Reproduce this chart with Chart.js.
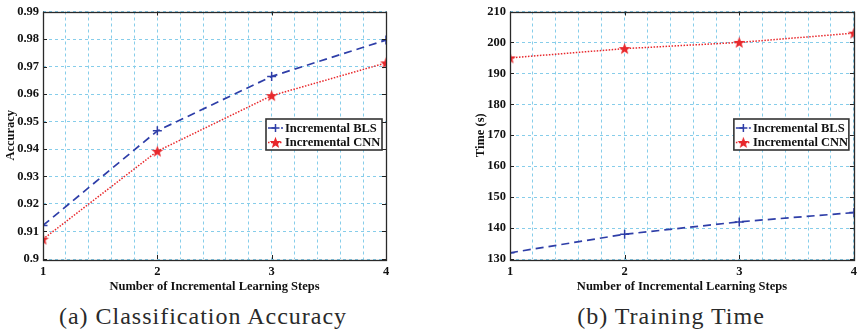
<!DOCTYPE html>
<html>
<head>
<meta charset="utf-8">
<script src="https://cdn.jsdelivr.net/npm/chart.js@4/dist/chart.umd.min.js"></script>
<style>
  html,body{margin:0;padding:0;background:#fff;}
  body{width:862px;height:330px;position:relative;overflow:hidden;}
  .wrap{position:absolute;top:0;width:431px;height:300px;}
  .cap{position:absolute;top:301px;font-family:"Liberation Serif","DejaVu Serif",serif;font-size:24px;letter-spacing:1px;color:#2a2a2a;white-space:nowrap;transform:translateX(-50%);line-height:30px;}
</style>
</head>
<body>
<div class="wrap" style="left:0"><canvas id="c1" width="431" height="300"></canvas></div>
<div class="wrap" style="left:431px"><canvas id="c2" width="431" height="300"></canvas></div>
<div class="cap" style="left:203px">(a) Classification Accuracy</div>
<div class="cap" style="left:671px">(b) Training Time</div>
<script>
// ---- data ----
const steps = [1, 2, 3, 4];
const seriesNames = ['Incremental BLS', 'Incremental CNN'];
const accBLS = [0.9122, 0.9466, 0.9664, 0.9796];
const accCNN = [0.9072, 0.9392, 0.9594, 0.9713];
const timeBLS = [132, 138, 142, 145];
const timeCNN = [195, 198, 200, 203];
const accTicks = [0.9, 0.91, 0.92, 0.93, 0.94, 0.95, 0.96, 0.97, 0.98, 0.99];
const timeTicks = [130, 140, 150, 160, 170, 180, 190, 200, 210];
const xTickLabels = ['1', '2', '3', '4'];
const accTitle = 'Accuracy';
const timeTitle = 'Time (s)';
const xTitle = 'Number of Incremental Learning Steps';

// ---- styles ----
const BLUE = '#2e3ea8';
const RED = '#e8282c';
const GRID = '#86cdea';
const FONT = '"Liberation Serif", "Times New Roman", serif';

function makeStar(size, color) {
  const c = document.createElement('canvas');
  c.width = size; c.height = size;
  const g = c.getContext('2d');
  const cx = size / 2, cy = size / 2 + 0.5, R = size / 2 - 0.3, r = R * 0.42;
  g.beginPath();
  for (let i = 0; i < 10; i++) {
    const a = -Math.PI / 2 + i * Math.PI / 5;
    const rr = i % 2 === 0 ? R : r;
    g.lineTo(cx + rr * Math.cos(a), cy + rr * Math.sin(a));
  }
  g.closePath();
  g.fillStyle = color; g.fill();
  return c;
}
const starImg = makeStar(13, RED);

function pts(ys) { return steps.map((x, i) => ({x: x, y: ys[i]})); }

const boxPlugin = {
  id: 'boxPlugin',
  afterDraw(chart, args, opts) {
    const {ctx, chartArea: a, scales} = chart;
    ctx.save();
    // inward ticks
    ctx.strokeStyle = '#222'; ctx.lineWidth = 1;
    const ys = scales.y.ticks.map(t => t.value);
    ctx.beginPath();
    ys.forEach(v => {
      const py = Math.round(scales.y.getPixelForValue(v)) + 0.5;
      ctx.moveTo(a.left, py); ctx.lineTo(a.left + 4, py);
      ctx.moveTo(a.right, py); ctx.lineTo(a.right - 4, py);
    });
    steps.forEach(v => {
      const px = Math.round(scales.x.getPixelForValue(v)) + 0.5;
      ctx.moveTo(px, a.bottom); ctx.lineTo(px, a.bottom - 4);
      ctx.moveTo(px, a.top); ctx.lineTo(px, a.top + 4);
    });
    ctx.stroke();
    // box
    ctx.strokeStyle = '#2a2a2a'; ctx.lineWidth = 1.3;
    ctx.strokeRect(Math.round(a.left) + 0.5, Math.round(a.top) + 0.5,
      Math.round(a.right - a.left), Math.round(a.bottom - a.top));
    // legend
    const L = opts.legend;
    const bx = a.right - L.dx, by = L.top, bw = L.w, bh = 31;
    ctx.fillStyle = '#fff';
    ctx.fillRect(bx, by, bw, bh);
    ctx.strokeStyle = '#333'; ctx.lineWidth = 1.6;
    ctx.strokeRect(bx, by, bw, bh);
    const rows = [by + 9, by + 23.5];
    const ds = chart.data.datasets;
    ctx.font = 'bold 12.5px ' + FONT;
    ctx.textBaseline = 'middle'; ctx.textAlign = 'left';
    ds.forEach((d, i) => {
      const yy = rows[i];
      ctx.strokeStyle = d.borderColor; ctx.lineWidth = 1.4;
      ctx.setLineDash(d.borderDash);
      ctx.beginPath(); ctx.moveTo(bx + 2, yy); ctx.lineTo(bx + 17, yy); ctx.stroke();
      ctx.setLineDash([]);
      const mx = bx + 9.5;
      if (i === 0) {
        ctx.lineWidth = 1.5;
        ctx.beginPath();
        ctx.moveTo(mx - 4, yy); ctx.lineTo(mx + 4, yy);
        ctx.moveTo(mx, yy - 4); ctx.lineTo(mx, yy + 4);
        ctx.stroke();
      } else {
        ctx.drawImage(starImg, mx - 6.5, yy - 6.5);
      }
      ctx.fillStyle = '#111';
      ctx.fillText(d.label, bx + 19, yy + 0.5);
    });
    ctx.restore();
  }
};

function makeChart(id, d1, d2, yTicks, yTitle, yWidth, yTitlePad, rightPad, legend) {
  return new Chart(document.getElementById(id), {
    type: 'line',
    data: {
      datasets: [
        {label: seriesNames[0], data: pts(d1), borderColor: BLUE, backgroundColor: BLUE,
         borderWidth: 1.7, borderDash: [8, 5], pointStyle: 'cross', pointRadius: 4.5,
         pointBorderWidth: 1.5, pointBorderColor: BLUE, tension: 0, fill: false},
        {label: seriesNames[1], data: pts(d2), borderColor: RED, backgroundColor: RED,
         borderWidth: 1.5, borderDash: [1.5, 1.5], pointStyle: starImg, pointRadius: 6,
         tension: 0, fill: false}
      ]
    },
    options: {
      responsive: false, animation: false, devicePixelRatio: 1,
      layout: {padding: {left: 0, right: rightPad, top: 9, bottom: 0}},
      plugins: {legend: {display: false}, tooltip: {enabled: false},
        boxPlugin: {legend: legend}},
      scales: {
        x: {
          type: 'linear', min: steps[0], max: steps[steps.length - 1],
          ticks: {stepSize: 0.2, autoSkip: false, maxRotation: 0, padding: 5, color: '#111',
            font: {family: FONT, size: 12.5, weight: 'bold'},
            callback: (v) => {
              const k = Math.round(v);
              return Math.abs(v - k) < 1e-6 ? xTickLabels[steps.indexOf(k)] : '';
            }},
          grid: {color: GRID, lineWidth: 1, drawTicks: false},
          border: {display: false, dash: [3, 3]},
          title: {display: true, text: xTitle, color: '#111',
            font: {family: FONT, size: 12.5, weight: 'bold'}, padding: {top: 0, bottom: 6}},
          afterFit: (s) => { s.height = 41; }
        },
        y: {
          type: 'linear', min: yTicks[0], max: yTicks[yTicks.length - 1],
          afterBuildTicks: (s) => { s.ticks = yTicks.map(v => ({value: v})); },
          ticks: {padding: 4, color: '#111', font: {family: FONT, size: 12.5, weight: 'bold'},
            callback: (v) => String(v)},
          grid: {color: GRID, lineWidth: 1, drawTicks: false},
          border: {display: false, dash: [3, 3]},
          title: {display: true, text: yTitle, color: '#111',
            font: {family: FONT, size: 12.5, weight: 'bold'}, padding: {top: yTitlePad, bottom: 0}},
          afterFit: (s) => { s.width = yWidth; }
        }
      }
    },
    plugins: [boxPlugin]
  });
}

makeChart('c1', accBLS, accCNN, accTicks, accTitle, 43, 3, 45, {dx: 120, top: 119, w: 116});
makeChart('c2', timeBLS, timeCNN, timeTicks, timeTitle, 79, 42, 8, {dx: 120, top: 119, w: 115});
</script>
</body>
</html>
